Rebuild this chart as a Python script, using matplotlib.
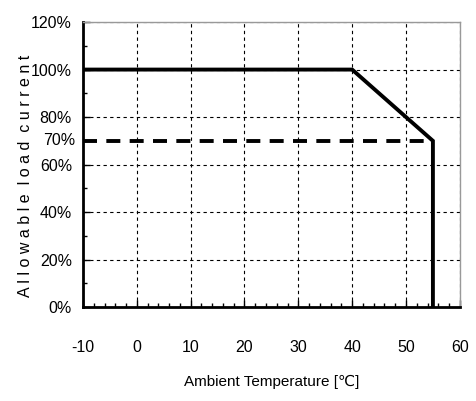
import matplotlib.pyplot as plt
from matplotlib.ticker import MultipleLocator, FuncFormatter

# derating curve
temp = [-10, 40, 55, 55]
load = [100, 100, 70, 0]
# 70% reference line
ref_temp = [-10, 55]
ref_load = [70, 70]

xticks = [-10, 0, 10, 20, 30, 40, 50, 60]
yticks = [0, 20, 40, 60, 80, 100, 120]

plt.rcParams['font.family'] = ['Liberation Sans', 'DejaVu Sans']
plt.rcParams['axes.unicode_minus'] = False

fig = plt.figure(figsize=(4.77, 4.01), dpi=100)
ax = fig.add_axes([0.174, 0.234, 0.79, 0.711])

ax.plot(temp, load, color='black', lw=2.8, solid_joinstyle='miter')
ax.plot(ref_temp, ref_load, color='black', lw=2.8, dashes=(3.6, 2.4))

ax.set_xlim(-10, 60)
ax.set_ylim(0, 120)
ax.set_xticks(xticks)
ax.set_yticks(yticks)
ax.xaxis.set_minor_locator(MultipleLocator(2))
ax.yaxis.set_minor_locator(MultipleLocator(10))
ax.yaxis.set_major_formatter(FuncFormatter(lambda v, p: f'{v:.0f}%'))

ax.grid(True, which='major', color='black', lw=0.8, linestyle=(0, (3, 3)))
ax.tick_params(which='both', direction='in', labelsize=11.5, color='black')
ax.tick_params(which='major', length=5, width=1)
ax.tick_params(which='minor', length=3, width=1)
ax.tick_params(axis='x', pad=24)
ax.tick_params(axis='y', pad=8)
ax.tick_params(top=False, right=False, which='both')

ax.text(-11.4, 70, '70%', ha='right', va='center', fontsize=11.5, color='black')

for s in ['left', 'bottom']:
    ax.spines[s].set_linewidth(2)
for s in ['top', 'right']:
    ax.spines[s].set_color('#999999')
    ax.spines[s].set_linewidth(1)

ax.set_xlabel('Ambient Temperature [\u2103]', fontsize=11, labelpad=14)
ax.set_ylabel('A l l o w a b l e  l o a d  c u r r e n t', fontsize=11.5)
ax.yaxis.set_label_coords(-0.133, 0.46)

fig.savefig('out.png', dpi=100)
